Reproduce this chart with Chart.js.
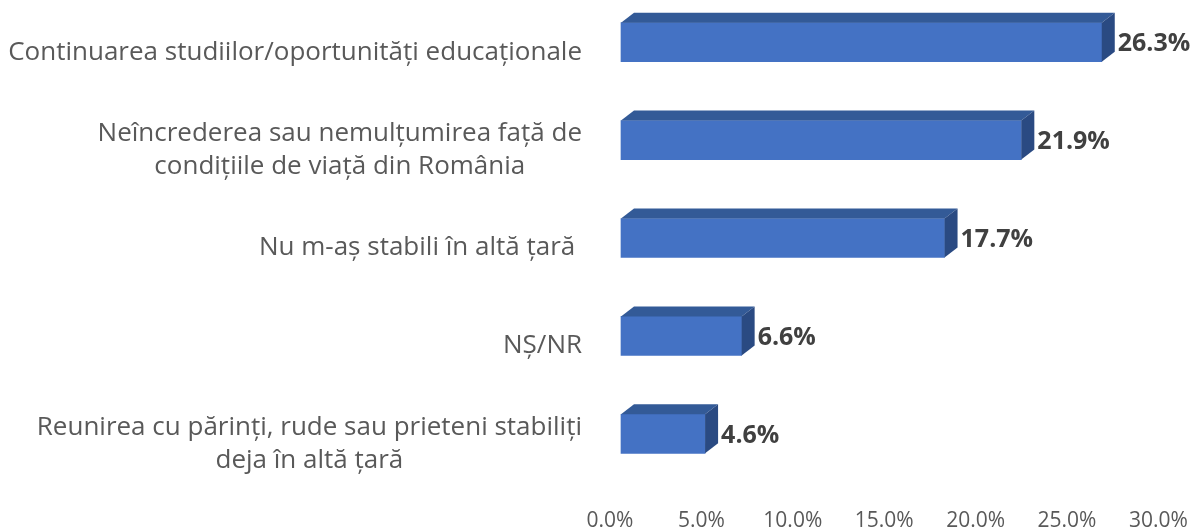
<!DOCTYPE html>
<html><head><meta charset="utf-8">
<script src="https://cdn.jsdelivr.net/npm/chart.js@4.4.1/dist/chart.umd.min.js"></script>
<style>html,body{margin:0;padding:0;background:#fff}#wrap{width:1194px;height:530px;position:relative}</style>
</head><body><div id="wrap"><canvas id="c"></canvas></div>
<script>
const categories = [
  ["Continuarea studiilor/oportunități educaționale"],
  ["Neîncrederea sau nemulțumirea față de", "condițiile de viață din România"],
  ["Nu m-aș stabili în altă țară "],
  ["NȘ/NR"],
  ["Reunirea cu părinți, rude sau prieteni stabiliți", "deja în altă țară"]
];
const values = [26.3, 21.9, 17.7, 6.6, 4.6];
const tickValues = [0, 5, 10, 15, 20, 25, 30];

const FRONT = '#4472C4', TOP = '#335A97', SIDE = '#2A4A82';
const DX = 13, DY = 10;

const bar3d = {
  id: 'bar3d',
  afterDatasetsDraw(chart) {
    const ctx = chart.ctx;
    const meta = chart.getDatasetMeta(0);
    meta.data.forEach((bar, i) => {
      const p = bar.getProps(['x', 'y', 'base', 'height'], true);
      const top = p.y - p.height / 2, bottom = p.y + p.height / 2;
      ctx.save();
      ctx.fillStyle = TOP;
      ctx.beginPath();
      ctx.moveTo(p.base, top); ctx.lineTo(p.base + DX, top - DY);
      ctx.lineTo(p.x + DX, top - DY); ctx.lineTo(p.x, top); ctx.closePath(); ctx.fill();
      ctx.fillStyle = SIDE;
      ctx.beginPath();
      ctx.moveTo(p.x, top); ctx.lineTo(p.x + DX, top - DY);
      ctx.lineTo(p.x + DX, bottom - DY); ctx.lineTo(p.x, bottom); ctx.closePath(); ctx.fill();
      ctx.font = 'bold 25px "Open Sans"';
      ctx.fillStyle = '#404040';
      ctx.textAlign = 'left';
      ctx.textBaseline = 'middle';
      ctx.fillText(values[i].toFixed(1) + '%', p.x + DX + 3, p.y + 2);
      ctx.restore();
    });
  }
};

const yLabels = {
  id: 'yLabels',
  afterDraw(chart) {
    const ctx = chart.ctx, ys = chart.scales.y;
    ctx.save();
    ctx.font = '26px "Open Sans"';
    ctx.fillStyle = '#595959';
    ctx.textAlign = 'center';
    ctx.textBaseline = 'middle';
    categories.forEach((lines, i) => {
      const cy = ys.getPixelForTick(i) + 10;
      const w = Math.max(...lines.map(l => ctx.measureText(l).width));
      const cx = ys.right - 39 - w / 2;
      lines.forEach((l, j) => ctx.fillText(l, cx, cy + (j - (lines.length - 1) / 2) * 33));
    });
    ctx.restore();
  }
};

new Chart(document.getElementById('c'), {
  type: 'bar',
  data: {
    labels: categories,
    datasets: [{ data: values, backgroundColor: FRONT, barThickness: 39, clip: false }]
  },
  options: {
    indexAxis: 'y',
    responsive: true,
    maintainAspectRatio: false,
    animation: false,
    layout: { padding: { top: 42.2, right: 24.6, bottom: 0, left: 0 } },
    plugins: { legend: { display: false }, tooltip: { enabled: false } },
    scales: {
      y: {
        type: 'category',
        offset: false,
        grid: { display: false, drawTicks: false },
        border: { display: false },
        ticks: { display: false },
        afterFit: s => { s.width = 621; }
      },
      x: {
        type: 'linear',
        min: 0, max: 30,
        grid: { display: false, drawTicks: true, tickLength: 75 },
        border: { display: false },
        afterBuildTicks: s => { s.ticks = tickValues.map(v => ({ value: v })); },
        ticks: {
          callback: v => Number(v).toFixed(1) + '%',
          font: { family: 'Open Sans', size: 21 },
          color: '#595959',
          labelOffset: -11,
          padding: 0,
          maxRotation: 0,
          autoSkip: false
        },
        afterFit: s => { s.height = 96.2; s.paddingRight = 0; s.paddingLeft = 0; }
      }
    }
  },
  plugins: [bar3d, yLabels]
});
</script>
</body></html>
